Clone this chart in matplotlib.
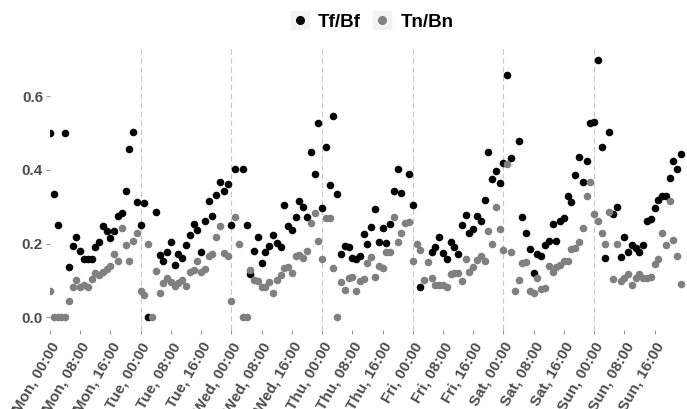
import numpy as np
import matplotlib
matplotlib.use('Agg')
import matplotlib.pyplot as plt
from matplotlib.lines import Line2D
from matplotlib.legend_handler import HandlerTuple

nan = np.nan

# hourly values over one week, Mon 00:00 .. Sun 23:00
hours = np.arange(168)

tf_bf = [0.50, 0.335, 0.25, nan, 0.50, 0.136, 0.194, 0.219, 0.181, 0.158, 0.158, 0.157,
         0.192, 0.205, 0.248, 0.233, 0.216, 0.233, 0.275, 0.284, 0.343, 0.456, 0.502, 0.312,
         0.25, 0.31, 0.0, nan, 0.287, 0.169, 0.153, 0.178, 0.204, 0.142, 0.171, 0.16,
         0.195, 0.222, 0.253, 0.237, 0.176, 0.262, 0.316, 0.276, 0.332, 0.367, 0.343, 0.362,
         0.251, 0.402, nan, 0.402, 0.251, 0.118, 0.18, 0.219, 0.147, 0.176, 0.194, 0.222,
         0.201, 0.192, 0.305, 0.248, 0.237, 0.273, 0.316, 0.30, 0.273, 0.448, 0.388, 0.527,
         0.296, 0.463, 0.358, 0.547, 0.334, 0.171, 0.194, 0.19, 0.162, 0.158, 0.167, 0.225,
         0.198, 0.246, 0.293, 0.205, 0.243, 0.201, 0.253, 0.344, 0.402, 0.338, nan, 0.389,
         0.305, nan, 0.083, nan, nan, 0.176, 0.19, 0.217, 0.174, 0.157, 0.205, 0.192,
         0.172, 0.251, 0.278, 0.228, 0.239, 0.275, 0.26, 0.319, 0.45, 0.376, 0.398, 0.364,
         0.42, 0.659, 0.432, nan, 0.48, 0.271, 0.228, 0.186, 0.119, 0.171, 0.167, 0.196,
         0.207, 0.253, 0.207, 0.26, 0.269, 0.328, 0.314, 0.386, 0.434, 0.368, 0.423, 0.527,
         0.531, 0.699, 0.463, 0.16, 0.502, 0.28, 0.299, 0.163, 0.219, 0.176, 0.196, 0.187,
         0.176, 0.196, 0.26, 0.267, 0.298, 0.319, 0.328, 0.329, 0.379, 0.425, 0.402, 0.443]

tn_bn = [0.072, 0.0, 0.0, 0.0, 0.0, 0.043, 0.081, 0.101, 0.081, 0.088, 0.083, 0.104,
         0.121, 0.115, 0.124, 0.131, 0.138, 0.172, 0.153, 0.243, 0.196, 0.154, 0.208, 0.23,
         0.072, 0.061, 0.2, 0.0, 0.126, 0.065, 0.094, 0.106, 0.095, 0.085, 0.094, 0.10,
         0.085, 0.122, 0.129, 0.154, 0.122, 0.13, 0.167, 0.171, 0.217, 0.248, 0.174, 0.167,
         0.043, 0.273, 0.2, 0.0, 0.0, 0.128, 0.10, 0.097, 0.083, 0.081, 0.095, 0.065,
         0.10, 0.115, 0.133, 0.136, 0.12, 0.167, 0.169, 0.16, 0.18, 0.255, 0.284, 0.207,
         0.157, 0.269, 0.269, 0.133, 0.0, 0.095, 0.074, 0.106, 0.11, 0.07, 0.097, 0.103,
         0.148, 0.163, 0.109, 0.138, 0.133, 0.176, 0.176, 0.273, 0.204, 0.228, 0.255, 0.259,
         0.154, 0.2, 0.183, 0.10, 0.151, 0.106, 0.088, 0.088, 0.088, 0.083, 0.118, 0.119,
         0.119, 0.097, 0.157, 0.124, 0.136, 0.156, 0.167, 0.154, 0.233, 0.2, 0.299, 0.239,
         0.183, 0.416, 0.178, 0.07, 0.10, 0.147, 0.149, 0.072, 0.067, 0.106, 0.077, 0.08,
         0.138, 0.124, 0.136, 0.142, 0.154, 0.154, 0.186, 0.187, 0.205, 0.242, 0.328, 0.368,
         0.281, 0.26, 0.228, 0.2, 0.287, 0.103, 0.2, 0.097, 0.106, 0.118, 0.088, 0.106,
         0.118, 0.106, 0.106, 0.109, 0.145, 0.157, 0.228, 0.196, 0.317, 0.21, 0.167, 0.09]

days = ['Mon', 'Tue', 'Wed', 'Thu', 'Fri', 'Sat', 'Sun']
tick_times = ['00:00', '08:00', '16:00']
yticks = [0.0, 0.2, 0.4, 0.6]

tick_pos = []
tick_lab = []
for d, day in enumerate(days):
    for t, tm in enumerate(tick_times):
        tick_pos.append(d * 24 + t * 8)
        tick_lab.append(day + ', ' + tm)

plt.rcParams['font.family'] = ['Liberation Sans', 'DejaVu Sans']

fig = plt.figure(figsize=(6.87, 4.09), dpi=100)
ax = fig.add_axes([0.0728, 0.193, 0.9257, 0.692])

for d in range(1, len(days)):
    ax.axvline(d * 24, color='#c8c8c8', lw=0.8, ls=(0, (5, 3)), zorder=1)

ax.scatter(hours, tf_bf, s=30, color='black', lw=0, zorder=3)
ax.scatter(hours, tn_bn, s=30, color='#808080', lw=0, zorder=4)

ax.set_xlim(0, 168.3)
ax.set_ylim(-0.035, 0.734)
ax.set_xticks(tick_pos)
ax.set_xticklabels(tick_lab)
ax.set_yticks(yticks)
ax.set_yticklabels(['%.1f' % v for v in yticks])
for s in ax.spines.values():
    s.set_visible(False)
ax.tick_params(axis='both', length=3, width=0.8, color='#999999',
               labelcolor='#4d4d4d', labelsize=11)
ax.tick_params(axis='y', pad=2)
ax.tick_params(axis='x', pad=4)
for lab in ax.get_xticklabels():
    lab.set_rotation(60)
    lab.set_ha('right')
    lab.set_va('top')
    lab.set_rotation_mode('anchor')
    lab.set_fontweight('bold')
for lab in ax.get_yticklabels():
    lab.set_fontweight('bold')

# legend keys: light grey square behind each dot
bg1 = Line2D([], [], marker='s', ls='', color='#f2f2f2', markersize=12.5)
bg2 = Line2D([], [], marker='s', ls='', color='#f2f2f2', markersize=12.5)
h1 = Line2D([], [], marker='o', ls='', color='black', markersize=5.5)
h2 = Line2D([], [], marker='o', ls='', color='#808080', markersize=5.5)
fig.legend([(bg1, h1), (bg2, h2)], ['Tf/Bf', 'Tn/Bn'], loc='center',
           bbox_to_anchor=(0.5415, 0.945), ncol=2, frameon=False,
           handler_map={tuple: HandlerTuple(ndivide=1, pad=0)},
           handlelength=0.95, handletextpad=0.5, columnspacing=0.65,
           prop={'weight': 'bold', 'size': 13.5})

fig.savefig('out.png', dpi=100)
